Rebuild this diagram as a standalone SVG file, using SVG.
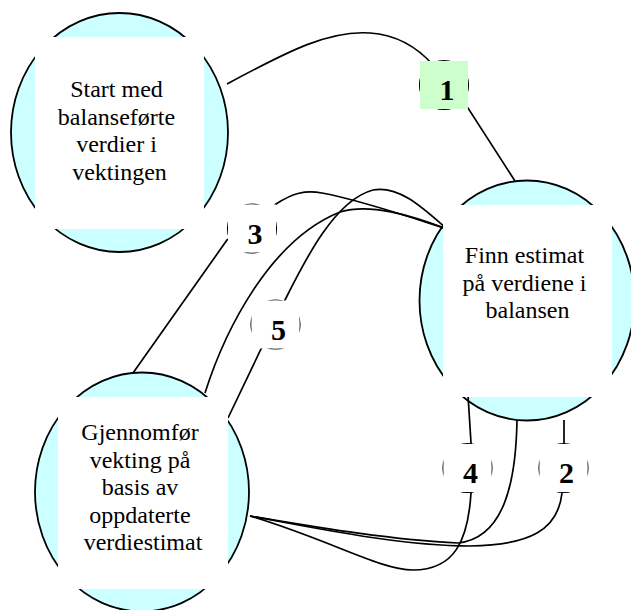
<svg xmlns="http://www.w3.org/2000/svg" width="631" height="610" viewBox="0 0 631 610">
  <style>
    .node-shape { fill: #ccffff; stroke: #000; stroke-width: 1.8; }
    .node-box { fill: #fff; stroke: none; }
    .node-text { font-family: 'Liberation Serif', 'DejaVu Serif', serif; font-size: 24px; fill: #000; text-anchor: middle; }
    .conn { fill: none; stroke: #000; stroke-width: 1.7; }
    .tag-ring { fill: none; stroke: #000; stroke-width: 1.2; }
    .tag-box { fill: #fff; stroke: none; }
    .tag-box.first { fill: #ccffcc; }
    .tag-text { font-family: 'Liberation Serif', 'DejaVu Serif', serif; font-size: 30px; font-weight: bold; fill: #000; text-anchor: middle; }
  </style>

  <!-- node outlines (drawn first so connectors show over the tinted rim) -->
  <g id="node-shapes">
    <ellipse class="node-shape" cx="119.5" cy="132.5" rx="108.5" ry="119.5"/>
    <ellipse class="node-shape" cx="527" cy="300.5" rx="107.5" ry="120"/>
    <ellipse class="node-shape" cx="142" cy="492" rx="107" ry="119.5"/>
  </g>

  <!-- connectors -->
  <g id="connectors">
    <path id="c1" class="conn" d="M227,84 C290,50 330,30 370,33 C400,35 420,50 434,66 L444,85 L468,108 L515,181"/>
    <path id="c2" class="conn" d="M564,420 L564,468 L562,493 C558,530 530,545 470,546 C400,546 310,527 250,516"/>
    <path id="c3" class="conn" d="M133,373 L227,240 L252,228 L276,204 C293,193 305,190 322,193 C360,200 410,217 447,229"/>
    <path id="c4" class="conn" d="M468,395 L471,443 L471,493 C468,540 455,570 413,570 C380,570 330,540 250,516"/>
    <path id="c5" class="conn" d="M228,418 L261,349 L275,325 L285,300 C305,260 335,200 373,190 C400,185 425,210 447,229"/>
    <path id="c6" class="conn" d="M205,393 C225,330 270,240 340,212 C370,203 410,215 447,229"/>
    <path id="c7" class="conn" d="M517,420 C516,480 505,538 458,543 C390,540 310,526 250,516"/>
  </g>

  <!-- nodes -->
  <g id="node-start">
    <rect class="node-box" x="35" y="37" width="169" height="192"/>
    <text class="node-text" font-family="Liberation Serif, serif">
      <tspan x="119.5" y="97">Start med</tspan>
      <tspan x="119.5" y="124.6">balanseførte</tspan>
      <tspan x="119.5" y="152.2">verdier i</tspan>
      <tspan x="119.5" y="179.8">vektingen</tspan>
    </text>
  </g>

  <g id="node-estimate">
    <rect class="node-box" x="443" y="205" width="169" height="192"/>
    <text class="node-text" font-family="Liberation Serif, serif">
      <tspan x="527.5" y="263">Finn estimat</tspan>
      <tspan x="527.5" y="290.5">på verdiene i</tspan>
      <tspan x="527.5" y="318">balansen</tspan>
    </text>
  </g>

  <g id="node-weighting">
    <rect class="node-box" x="58" y="397" width="170" height="192"/>
    <text class="node-text" font-family="Liberation Serif, serif">
      <tspan x="143" y="440">Gjennomfør</tspan>
      <tspan x="143" y="467.6">vekting på</tspan>
      <tspan x="143" y="495.2">basis av</tspan>
      <tspan x="143" y="522.8">oppdaterte</tspan>
      <tspan x="143" y="550.4">verdiestimat</tspan>
    </text>
  </g>

  <!-- step tags on the connectors -->
  <g id="tag-1">
    <circle class="tag-ring" cx="444" cy="85" r="24.5"/>
    <rect class="tag-box first" x="420" y="61" width="48" height="48"/>
    <text class="tag-text" x="447" y="99.5">1</text>
  </g>
  <g id="tag-2">
    <circle class="tag-ring" cx="563.5" cy="468" r="24.5"/>
    <rect class="tag-box" x="539.5" y="444" width="48" height="48"/>
    <text class="tag-text" x="566.5" y="483">2</text>
  </g>
  <g id="tag-3">
    <circle class="tag-ring" cx="252" cy="228.5" r="24.5"/>
    <rect class="tag-box" x="228" y="204.5" width="48" height="48"/>
    <text class="tag-text" x="255" y="243.5">3</text>
  </g>
  <g id="tag-4">
    <circle class="tag-ring" cx="467.5" cy="468" r="24.5"/>
    <rect class="tag-box" x="443.5" y="444" width="48" height="48"/>
    <text class="tag-text" x="470.5" y="483">4</text>
  </g>
  <g id="tag-5">
    <circle class="tag-ring" cx="275.5" cy="324.5" r="24.5"/>
    <rect class="tag-box" x="251.5" y="300.5" width="48" height="48"/>
    <text class="tag-text" x="278.5" y="339.5">5</text>
  </g>
</svg>
